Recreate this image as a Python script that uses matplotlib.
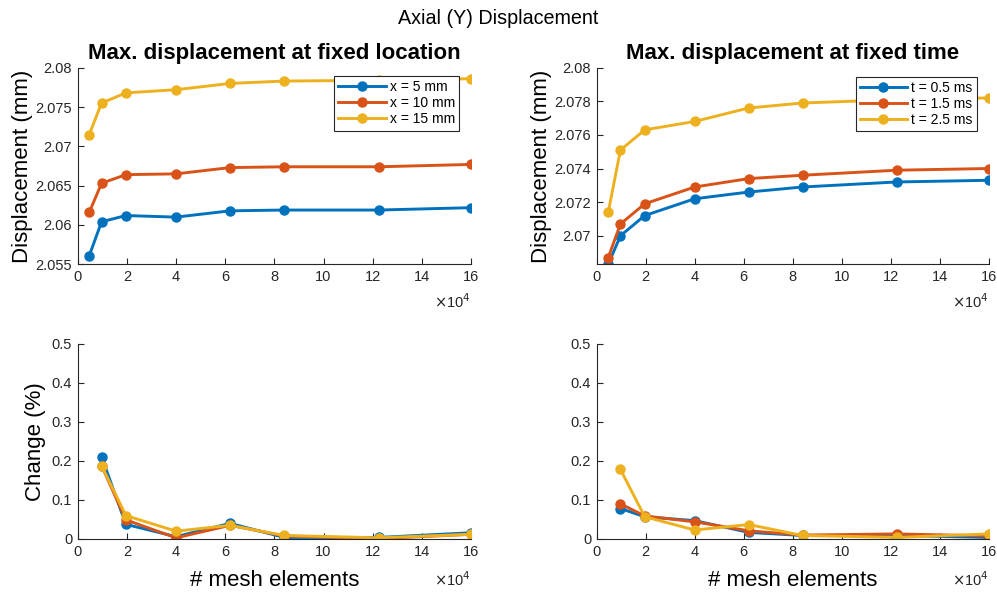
import matplotlib
matplotlib.use("Agg")
import matplotlib.pyplot as plt
from matplotlib.ticker import FuncFormatter, MultipleLocator

plt.rcParams['font.family'] = ['Liberation Sans', 'DejaVu Sans']

# Mesh sizes (number of elements)
mesh_elements = [4700, 9700, 19600, 40000, 62000, 84000, 122500, 160000]

# Max displacement at fixed location (mm)
loc_labels = ["x = 5 mm", "x = 10 mm", "x = 15 mm"]
disp_x5 = [2.0561, 2.0604, 2.0612, 2.0610, 2.0618, 2.0619, 2.0619, 2.0622]
disp_x10 = [2.0616, 2.0653, 2.0664, 2.0665, 2.0673, 2.0674, 2.0674, 2.0677]
disp_x15 = [2.0715, 2.0755, 2.0768, 2.0772, 2.0780, 2.0783, 2.0784, 2.0786]

# Max displacement at fixed time (mm)
time_labels = ["t = 0.5 ms", "t = 1.5 ms", "t = 2.5 ms"]
disp_t05 = [2.0683, 2.0700, 2.0712, 2.0722, 2.0726, 2.0729, 2.0732, 2.0733]
disp_t15 = [2.0687, 2.0707, 2.0719, 2.0729, 2.0734, 2.0736, 2.0739, 2.0740]
disp_t25 = [2.0714, 2.0751, 2.0763, 2.0768, 2.0776, 2.0779, 2.0781, 2.0782]

# Relative change between successive meshes (%), from the second mesh on
change_x5 = [0.211, 0.0375, 0.006, 0.040, 0.004, 0.004, 0.016]
change_x10 = [0.188, 0.049, 0.003, 0.035, 0.008, 0.001, 0.012]
change_x15 = [0.188, 0.060, 0.020, 0.035, 0.009, 0.003, 0.012]
change_t05 = [0.078, 0.057, 0.047, 0.017, 0.009, 0.009, 0.004]
change_t15 = [0.090, 0.059, 0.044, 0.021, 0.010, 0.013, 0.008]
change_t25 = [0.178, 0.057, 0.023, 0.037, 0.009, 0.004, 0.013]

colors = ["#0072BD", "#D95319", "#EDB120"]
axis_color = "#262626"

fig = plt.figure(figsize=(9.97, 5.92), dpi=100)
W, H = 997, 592


def make_axes(left, top, right, bottom):
    return fig.add_axes([left / W, 1 - bottom / H, (right - left) / W, (bottom - top) / H])


ax_tl = make_axes(77.7, 67.7, 471, 264.3)
ax_tr = make_axes(596.7, 67.7, 988.7, 264.3)
ax_bl = make_axes(77.7, 343.7, 471, 539)
ax_br = make_axes(596.7, 343.7, 988.7, 539)


def style_axes(ax, exp_y):
    for side in ("top", "right"):
        ax.spines[side].set_visible(False)
    for side in ("left", "bottom"):
        ax.spines[side].set_color(axis_color)
        ax.spines[side].set_linewidth(0.8)
    ax.tick_params(direction="in", length=4, width=0.8, colors=axis_color,
                   labelsize=10.5, labelcolor=axis_color, pad=4)
    ax.set_xlim(0, 160000)
    ax.xaxis.set_major_locator(MultipleLocator(20000))
    ax.xaxis.set_major_formatter(FuncFormatter(lambda v, p: f"{v / 1e4:g}"))
    ax.text(1.0, exp_y, r"$\times$10$^{4}$", transform=ax.transAxes,
            ha="right", va="center", fontsize=10.5, color=axis_color)


def plot_series(ax, x, series, labels=None):
    for i, y in enumerate(series):
        ax.plot(x, y, "-o", color=colors[i], lw=2.1, ms=6.5,
                label=None if labels is None else labels[i])


plot_series(ax_tl, mesh_elements, [disp_x5, disp_x10, disp_x15], loc_labels)
plot_series(ax_tr, mesh_elements, [disp_t05, disp_t15, disp_t25], time_labels)
plot_series(ax_bl, mesh_elements[1:], [change_x5, change_x10, change_x15])
plot_series(ax_br, mesh_elements[1:], [change_t05, change_t15, change_t25])

for ax in (ax_tl, ax_tr):
    style_axes(ax, -0.19)
for ax in (ax_bl, ax_br):
    style_axes(ax, -0.21)

ax_tl.set_ylim(2.055, 2.08)
ax_tl.yaxis.set_major_locator(MultipleLocator(0.005))
ax_tl.yaxis.set_major_formatter(FuncFormatter(lambda v, p: f"{v:g}"))
ax_tr.set_ylim(2.0683, 2.08)
ax_tr.set_yticks([2.07, 2.072, 2.074, 2.076, 2.078, 2.08])
ax_tr.yaxis.set_major_formatter(FuncFormatter(lambda v, p: f"{v:g}"))

for ax in (ax_bl, ax_br):
    ax.set_ylim(0, 0.5)
    ax.yaxis.set_major_locator(MultipleLocator(0.1))
    ax.yaxis.set_major_formatter(FuncFormatter(lambda v, p: f"{v:g}"))
    ax.set_xlabel("# mesh elements", fontsize=16, color="black", labelpad=8)

ax_tl.set_ylabel("Displacement (mm)", fontsize=16, color="black", labelpad=2)
ax_tr.set_ylabel("Displacement (mm)", fontsize=16, color="black", labelpad=2)
ax_bl.set_ylabel("Change (%)", fontsize=16, color="black", labelpad=4)

ax_tl.set_title("Max. displacement at fixed location", fontsize=16,
                fontweight="bold", pad=6)
ax_tr.set_title("Max. displacement at fixed time", fontsize=16,
                fontweight="bold", pad=6)

for ax, anchor in ((ax_tl, (459.3, 76)), (ax_tr, (976.7, 76.7))):
    leg = ax.legend(loc="upper right", bbox_to_anchor=(anchor[0] / W, 1 - anchor[1] / H),
                    bbox_transform=fig.transFigure, fontsize=10, frameon=True,
                    fancybox=False, framealpha=1, edgecolor="#262626",
                    handlelength=3.4, handletextpad=0.3, borderpad=0.3,
                    labelspacing=0.15, borderaxespad=0)
    leg.get_frame().set_linewidth(0.8)

fig.text(0.5, 1 - 18 / H, "Axial (Y) Displacement", ha="center", va="center",
         fontsize=14.2)

fig.savefig("out.png", dpi=100)
